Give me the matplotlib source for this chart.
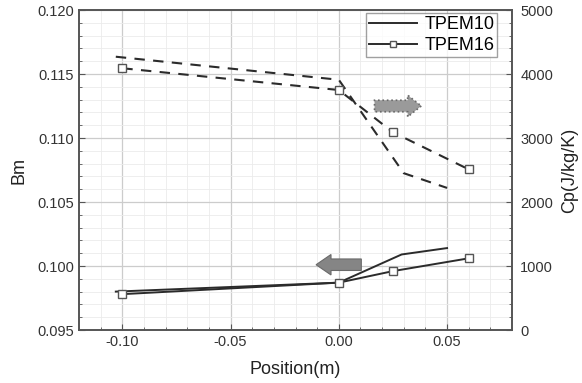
import numpy as np
import matplotlib.pyplot as plt
from matplotlib.patches import FancyArrow
from matplotlib.lines import Line2D
from matplotlib.ticker import MultipleLocator, FormatStrFormatter

plt.rcParams['font.family'] = ['Liberation Sans', 'DejaVu Sans']

# Bm, left axis (solid lines)
x_bm_tpem10 = [-0.103, 0.0, 0.029, 0.05]
bm_tpem10 = [0.0980, 0.0987, 0.1009, 0.1014]
x_bm_tpem16 = [-0.10, 0.0, 0.025, 0.06]
bm_tpem16 = [0.0978, 0.0987, 0.0996, 0.1006]

# Cp, right axis (dashed lines)
x_cp_tpem10 = [-0.103, 0.0, 0.03, 0.05]
cp_tpem10 = [4270, 3910, 2450, 2220]
x_cp_tpem16 = [-0.10, 0.0, 0.025, 0.06]
cp_tpem16 = [4090, 3750, 3090, 2510]

labels = ['TPEM10', 'TPEM16']

line_c = '#2b2b2b'
spine_c = '#555555'
text_c = '#333333'

fig = plt.figure(figsize=(5.82, 3.83), dpi=100)
ax = fig.add_axes([79 / 582, 1 - 330 / 383, 433 / 582, 320 / 383])
ax2 = ax.twinx()

# grid on the left axis
ax.set_xlim(-0.12, 0.08)
ax.set_ylim(0.095, 0.120)
ax.xaxis.set_major_locator(MultipleLocator(0.05))
ax.xaxis.set_minor_locator(MultipleLocator(0.01))
ax.yaxis.set_major_locator(MultipleLocator(0.005))
ax.yaxis.set_minor_locator(MultipleLocator(0.001))
ax.xaxis.set_major_formatter(FormatStrFormatter('%.2f'))
ax.yaxis.set_major_formatter(FormatStrFormatter('%.3f'))
ax.grid(which='major', color='#cccccc', lw=0.9)
ax.grid(which='minor', color='#ebebeb', lw=0.6)
ax.set_axisbelow(True)

ax2.set_ylim(0, 5000)
ax2.yaxis.set_major_locator(MultipleLocator(1000))
ax2.yaxis.set_minor_locator(MultipleLocator(200))

for a in (ax, ax2):
    for s in a.spines.values():
        s.set_color(spine_c)
        s.set_linewidth(1.2)
ax.tick_params(which='both', direction='in', color=spine_c, labelcolor=text_c,
               labelsize=10.5, top=False, right=False)
ax.tick_params(which='major', length=4)
ax.tick_params(which='minor', length=2.5)
ax2.tick_params(which='both', direction='in', color=spine_c, labelcolor=text_c, labelsize=10.5)
ax2.tick_params(which='major', length=4, pad=6)
ax2.tick_params(which='minor', length=2.5)

# Bm solid
ax.plot(x_bm_tpem10, bm_tpem10, color=line_c, lw=1.4)
ax.plot(x_bm_tpem16, bm_tpem16, color=line_c, lw=1.4, marker='s', ms=6,
        mfc='white', mec='#555555', mew=1.0)

# Cp dashed
ax2.plot(x_cp_tpem10, cp_tpem10, color=line_c, lw=1.5, dashes=(5, 4))
ax2.plot(x_cp_tpem16, cp_tpem16, color=line_c, lw=1.5, dashes=(5, 4), marker='s', ms=6,
         mfc='white', mec='#555555', mew=1.0)

# arrows
ax.add_patch(FancyArrow(0.0165, 0.1125, 0.0216, 0, width=0.0009, head_width=0.0017,
                        head_length=0.0063, length_includes_head=True,
                        fc='#9a9a9a', ec='#6a6a6a', ls=':', lw=1.2, zorder=3))
ax.add_patch(FancyArrow(0.0104, 0.1001, -0.0209, 0, width=0.0009, head_width=0.0016,
                        head_length=0.0069, length_includes_head=True,
                        fc='#858585', ec='#6a6a6a', lw=0.8, zorder=3))

ax.set_xlabel('Position(m)', fontsize=13, color='#222222', labelpad=9)
ax.set_ylabel('Bm', fontsize=13, color='#222222', labelpad=7)
ax2.set_ylabel('Cp(J/kg/K)', fontsize=13, color='#222222', labelpad=6)

handles = [Line2D([], [], color=line_c, lw=1.4),
           Line2D([], [], color=line_c, lw=1.4, marker='s', ms=5, mfc='white', mec='#555555')]
leg = ax2.legend(handles, labels, loc='upper right', bbox_to_anchor=(0.966, 0.99),
                 borderaxespad=0, fontsize=13, frameon=True, fancybox=False,
                 handlelength=2.7, handletextpad=0.4, borderpad=0.15, labelspacing=0.25,
                 numpoints=1)
leg.get_frame().set_edgecolor('#888888')
leg.get_frame().set_linewidth(1.0)

fig.savefig('out.png', dpi=100)
